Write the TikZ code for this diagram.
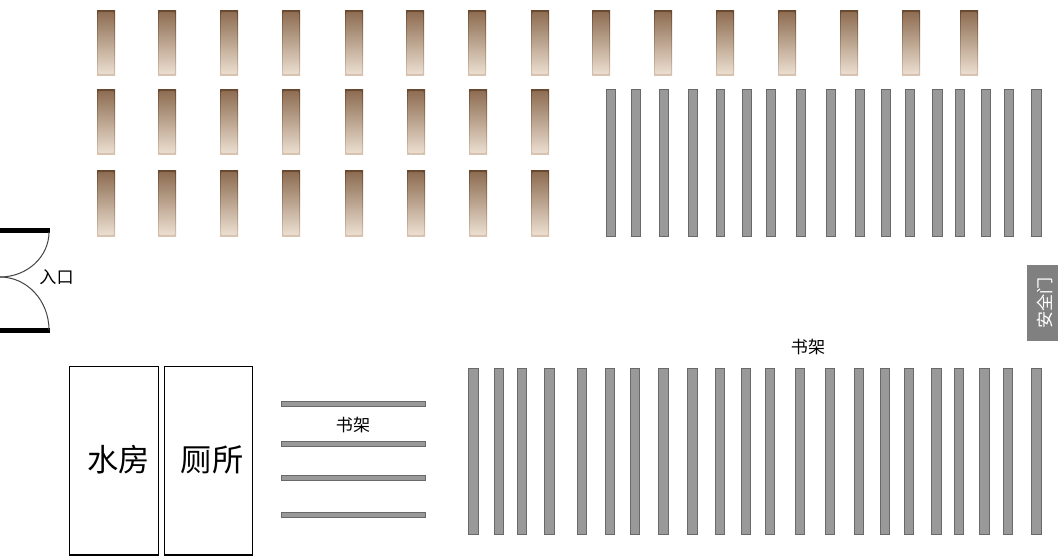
\documentclass[tikz,border=0pt]{standalone}
\usepackage{fontspec}
\setmainfont{Noto Sans CJK SC}
\definecolor{frametop}{HTML}{6A4A30}
\definecolor{framebot}{HTML}{D9C5B1}
\definecolor{desktop}{HTML}{8C6B50}
\definecolor{deskbot}{HTML}{EDE1D3}
\definecolor{shelfline}{HTML}{696969}
\definecolor{shelffill}{HTML}{999999}
\definecolor{doorc}{HTML}{444444}
\definecolor{exitc}{HTML}{808080}
\begin{document}
\begin{tikzpicture}[x=0.75pt,y=-0.75pt,
  deskbox/.style={inner sep=0,outer sep=0,minimum width=13.5pt,minimum height=48.75pt,anchor=north west,
    draw=none,top color=frametop,bottom color=framebot,
    path picture={\shade[top color=desktop,bottom color=deskbot]
      ([xshift=1.2pt,yshift=-1.2pt]path picture bounding box.north west) rectangle
      ([xshift=-1.2pt,yshift=1.2pt]path picture bounding box.south east);}},
  shelfv/.style={draw=shelfline,fill=shelffill,line width=0.75pt},
  room/.style={draw=black,fill=white,line width=0.85pt},
  lbl/.style={inner sep=0,font=\fontsize{12.8pt}{14pt}\selectfont},
  biglbl/.style={inner sep=0,font=\fontsize{23.4pt}{25pt}\selectfont},
  wall/.style={draw=black,line width=3.75pt},
  doorarc/.style={draw=doorc,line width=0.75pt}]
\useasboundingbox (0,0) rectangle (1058,560);
\fill[white] (0,0) rectangle (1058,560);
\foreach \x [count=\i] in {97,158,220,282,345,406,468,531,592,654,716,778,840,902,960}
  \node[deskbox] (da\i) at (\x,10.6) {};
\foreach \x [count=\i] in {97,158,220,282,345,407,469,531}{
  \node[deskbox] (db\i) at (\x,89.6) {};
  \node[deskbox] (dc\i) at (\x,171) {};
}
\foreach \x/\w in {606.5/8.5,631.5/9,659.5/9,688.5/9,716.5/8,742.5/8.5,766.5/9,796.5/9,826.5/9,855.5/9,881.5/9,905.5/8.5,932.5/10,955.5/9,981.5/9,1004.5/8.5,1031.5/10}
  \draw[shelfv] (\x,90) rectangle ++(\w,146);
\foreach \x/\w in {468.5/9.5,494/9.5,517.5/8.5,544.5/10,577.5/9,605.5/8.5,630.5/9,658.5/9.5,687.5/9.5,715.5/8.5,741.5/8.5,765.5/9,795.5/9,825.5/9,854.5/9,880.5/9,904.5/8.5,931.5/9.5,954.5/9,979.5/9.5,1003.5/8.5,1031/10}
  \draw[shelfv] (\x,368.5) rectangle ++(\w,166);
\foreach \y in {401,441,475,512}
  \draw[shelfv] (281,\y) rectangle (425,\y+5);
\node[lbl] (sh1) at (353,425) {书架};
\node[lbl] (sh2) at (808,347) {书架};
\draw[room] (69.5,366.5) rectangle (158.5,555);
\draw[room] (164.5,366.5) rectangle (252.5,555);
\node[biglbl] (wr) at (118.5,459.5) {水房};
\node[biglbl] (wc) at (212,459.5) {厕所};
\draw[wall] (0,230.5) -- (49.5,230.5);
\draw[wall] (0,330.5) -- (49.5,330.5);
\draw[doorarc] (49,232) arc[start angle=0,end angle=90,x radius=49,y radius=45];
\draw[doorarc] (49,330) arc[start angle=0,end angle=-90,x radius=49,y radius=53];
\node[lbl] (ent) at (56.5,277) {入口};
\fill[exitc] (1027,265) rectangle (1058,341);
\node[lbl,rotate=90,text=white] (ex) at (1045,303) {安全门};
\end{tikzpicture}
\end{document}
